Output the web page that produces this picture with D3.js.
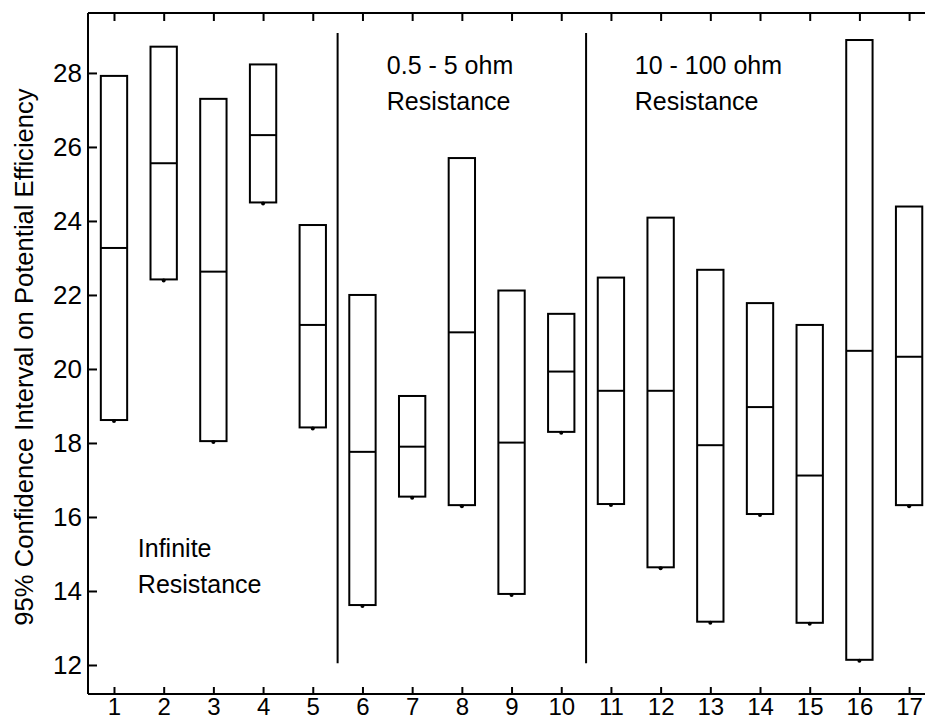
<!DOCTYPE html>
<html>
<head>
<meta charset="utf-8">
<script src="https://cdn.jsdelivr.net/npm/d3@7"></script>
<style>
    body { margin: 0; background: #fff; }
    svg text { font-family: "Liberation Sans", Arial, sans-serif; fill: #000; }
</style>
</head>
<body>
<div id="chart"></div>
<script>
// data
const samples = [1, 2, 3, 4, 5, 6, 7, 8, 9, 10, 11, 12, 13, 14, 15, 16, 17];
const lower  = [18.62, 22.42, 18.05, 24.50, 18.42, 13.62, 16.55, 16.32, 13.92, 18.30, 16.35, 14.64, 13.17, 16.08, 13.14, 12.14, 16.32];
const middle = [23.27, 25.56, 22.63, 26.32, 21.19, 17.76, 17.90, 20.99, 18.01, 19.93, 19.41, 19.41, 17.94, 18.97, 17.12, 20.49, 20.33];
const upper  = [27.92, 28.71, 27.30, 28.23, 23.89, 22.00, 19.27, 25.70, 22.12, 21.49, 22.47, 24.09, 22.68, 21.78, 21.19, 28.89, 24.39];
const yTicks = [12, 14, 16, 18, 20, 22, 24, 26, 28];
const dividers = [5.5, 10.5];
const dividerRange = [12.05, 29.08];
const groupLabels = [
    {x: 1.48, y: 14.92, lines: ["Infinite", "Resistance"]},
    {x: 6.49, y: 27.96, lines: ["0.5 - 5 ohm", "Resistance"]},
    {x: 11.48, y: 27.96, lines: ["10 - 100 ohm", "Resistance"]}
];
const yTitle = "95% Confidence Interval on Potential Efficiency";

const W = 925, H = 721;
const margin = {top: 13, right: 0, bottom: 27, left: 88};
const boxW = 0.53;

const x = d3.scaleLinear().domain([0.477, 17.32]).range([margin.left, W - margin.right]);
const y = d3.scaleLinear().domain([11.216, 29.62]).range([H - margin.bottom, margin.top]);

const svg = d3.select("#chart").append("svg")
    .attr("width", W)
    .attr("height", H);

// boxes
const rows = samples.map((s, i) => ({s: s, lo: lower[i], mid: middle[i], hi: upper[i]}));

const g = svg.append("g").attr("class", "boxes");
g.selectAll("rect")
    .data(rows)
    .enter()
    .append("rect")
    .attr("x", d => x(d.s - boxW / 2))
    .attr("y", d => y(d.hi))
    .attr("width", d => x(d.s + boxW / 2) - x(d.s - boxW / 2))
    .attr("height", d => y(d.lo) - y(d.hi))
    .attr("fill", "none")
    .attr("stroke", "#000")
    .attr("stroke-width", 2);

g.selectAll("line.mid")
    .data(rows)
    .enter()
    .append("line")
    .attr("class", "mid")
    .attr("x1", d => x(d.s - boxW / 2))
    .attr("x2", d => x(d.s + boxW / 2))
    .attr("y1", d => y(d.mid))
    .attr("y2", d => y(d.mid))
    .attr("stroke", "#000")
    .attr("stroke-width", 2);

g.selectAll("circle")
    .data(rows)
    .enter()
    .append("circle")
    .attr("cx", d => x(d.s))
    .attr("cy", d => y(d.lo) + 1)
    .attr("r", 2)
    .attr("fill", "#000");

// group dividers
svg.selectAll("line.divider")
    .data(dividers)
    .enter()
    .append("line")
    .attr("class", "divider")
    .attr("x1", d => x(d))
    .attr("x2", d => x(d))
    .attr("y1", y(dividerRange[0]))
    .attr("y2", y(dividerRange[1]))
    .attr("stroke", "#000")
    .attr("stroke-width", 2);

// group labels
groupLabels.forEach(function(lab) {
    const t = svg.append("text")
        .attr("x", x(lab.x))
        .attr("y", y(lab.y))
        .style("font-size", "25px");
    lab.lines.forEach(function(line, k) {
        t.append("tspan")
            .attr("x", x(lab.x))
            .attr("dy", k === 0 ? 0 : 36)
            .text(line);
    });
});

// axes, ticks point inwards
const xAxis = svg.append("g")
    .attr("transform", `translate(0,${H - margin.bottom})`)
    .call(d3.axisBottom(x).tickValues(samples).tickFormat(d3.format("d")).tickSize(-7).tickPadding(4));

const xTop = svg.append("g")
    .attr("transform", `translate(0,${margin.top})`)
    .call(d3.axisTop(x).tickValues(samples).tickFormat("").tickSize(-8));

const yAxis = svg.append("g")
    .attr("transform", `translate(${margin.left},0)`)
    .call(d3.axisLeft(y).tickValues(yTicks).tickFormat(d3.format("d")).tickSize(-9).tickPadding(6));

[xAxis, xTop, yAxis].forEach(function(a) {
    a.select(".domain").attr("stroke", "#000").attr("stroke-width", 2);
    a.selectAll(".tick line").attr("stroke", "#000").attr("stroke-width", 2);
    a.selectAll(".tick text").style("font-family", "'Liberation Sans', Arial, sans-serif");
});
xAxis.selectAll(".tick text").style("font-size", "24px");
yAxis.selectAll(".tick text").style("font-size", "26px");
// d3 domain path has outer ticks; keep plain lines instead
xAxis.select(".domain").attr("d", `M${margin.left},0H${W}`);
xTop.select(".domain").attr("d", `M${margin.left},0H${W}`);
yAxis.select(".domain").attr("d", `M0,${margin.top}V${H - margin.bottom}`);

svg.append("text")
    .attr("transform", `translate(33,357) rotate(-90)`)
    .attr("text-anchor", "middle")
    .style("font-size", "25.6px")
    .text(yTitle);
</script>
</body>
</html>
